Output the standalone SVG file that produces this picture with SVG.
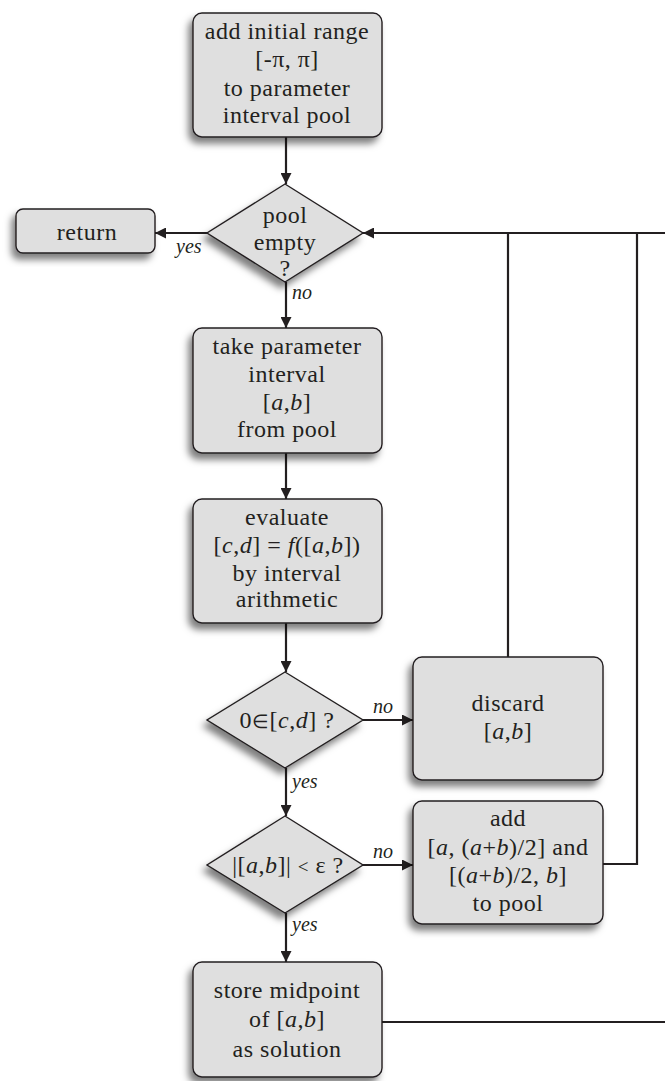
<svg xmlns="http://www.w3.org/2000/svg" width="665" height="1081" viewBox="0 0 665 1081">
<style>
.box{fill:#dfdfdf;stroke:#231f20;stroke-width:1.4;filter:url(#sh)}
.t{font-family:"Liberation Serif",serif;font-size:24px;fill:#231f20;text-anchor:middle;letter-spacing:0.5px}
.lbl{font-family:"Liberation Serif",serif;font-style:italic;font-size:20px;fill:#231f20}
.i{font-style:italic}
.sm{font-size:19px}
.c{fill:none;stroke:#231f20;stroke-width:2.2}
.a{marker-end:url(#ah)}
</style>
<defs>
<filter id="sh" x="-20%" y="-20%" width="140%" height="150%">
<feDropShadow dx="-4" dy="6" stdDeviation="3.5" flood-color="#000" flood-opacity="0.5"/>
</filter>
<marker id="ah" markerWidth="11" markerHeight="11" refX="11" refY="5.5" orient="auto" markerUnits="userSpaceOnUse">
<path d="M0,0 L11,5.5 L0,11 Z" fill="#231f20"/>
</marker>
</defs>

<g id="connectors">
<path class="c a" d="M286,137 V184"/>
<path class="c a" d="M207,233 H155"/>
<path class="c a" d="M286,282 V328"/>
<path class="c a" d="M286,453 V499"/>
<path class="c a" d="M286,623 V672"/>
<path class="c a" d="M363,720 H413"/>
<path class="c a" d="M286,768 V816"/>
<path class="c a" d="M363,865 H413"/>
<path class="c a" d="M286,913 V962"/>
<path class="c" d="M508,657 V233"/>
<path class="c" d="M603,864 H637 V233"/>
<path class="c a" d="M382,1022 H672 V233 H363"/>
<text class="lbl" x="176" y="253">yes</text>
<text class="lbl" x="292" y="299">no</text>
<text class="lbl" x="373" y="713">no</text>
<text class="lbl" x="292" y="788">yes</text>
<text class="lbl" x="373" y="858">no</text>
<text class="lbl" x="292" y="931">yes</text>
</g>

<g id="init">
<rect class="box" x="193" y="13" width="189" height="124" rx="9"/>
<text class="t" x="287" y="39">add initial range</text>
<text class="t" x="287" y="67">[-π, π]</text>
<text class="t" x="287" y="96">to parameter</text>
<text class="t" x="287" y="123">interval pool</text>
</g>

<g id="pool-empty">
<path class="box" d="M285,184 L363,233 L285,282 L207,233 Z"/>
<text class="t" x="285" y="223">pool</text>
<text class="t" x="285" y="250">empty</text>
<text class="t" x="285" y="276">?</text>
</g>

<g id="return">
<rect class="box" x="16" y="209" width="139" height="44" rx="7"/>
<text class="t" x="87" y="240">return</text>
</g>

<g id="take">
<rect class="box" x="193" y="328" width="189" height="125" rx="9"/>
<text class="t" x="287" y="354">take parameter</text>
<text class="t" x="287" y="382">interval</text>
<text class="t" x="287" y="410">[<tspan class="i">a</tspan>,<tspan class="i">b</tspan>]</text>
<text class="t" x="287" y="437">from pool</text>
</g>

<g id="evaluate">
<rect class="box" x="193" y="499" width="189" height="124" rx="9"/>
<text class="t" x="287" y="525">evaluate</text>
<text class="t" x="287" y="553">[<tspan class="i">c</tspan>,<tspan class="i">d</tspan>] = <tspan class="i">f</tspan>([<tspan class="i">a</tspan>,<tspan class="i">b</tspan>])</text>
<text class="t" x="287" y="581">by interval</text>
<text class="t" x="287" y="607">arithmetic</text>
</g>

<g id="zero-test">
<path class="box" d="M285,672 L363,720 L285,768 L207,720 Z"/>
<text class="t" x="287" y="728">0<tspan class="sm">∈</tspan>[<tspan class="i">c</tspan>,<tspan class="i">d</tspan>] ?</text>
</g>

<g id="discard">
<rect class="box" x="413" y="657" width="190" height="123" rx="9"/>
<text class="t" x="508" y="711">discard</text>
<text class="t" x="508" y="739">[<tspan class="i">a</tspan>,<tspan class="i">b</tspan>]</text>
</g>

<g id="width-test">
<path class="box" d="M285,816 L363,865 L285,913 L207,865 Z"/>
<text class="t" x="288" y="873">|[<tspan class="i">a</tspan>,<tspan class="i">b</tspan>]| <tspan class="sm">&lt;</tspan> ε ?</text>
</g>

<g id="split">
<rect class="box" x="413" y="801" width="190" height="123" rx="9"/>
<text class="t" x="508" y="826">add</text>
<text class="t" x="508" y="855">[<tspan class="i">a</tspan>, (<tspan class="i">a</tspan>+<tspan class="i">b</tspan>)/2] and</text>
<text class="t" x="508" y="883">[(<tspan class="i">a</tspan>+<tspan class="i">b</tspan>)/2, <tspan class="i">b</tspan>]</text>
<text class="t" x="508" y="911">to pool</text>
</g>

<g id="store">
<rect class="box" x="193" y="962" width="189" height="115" rx="9"/>
<text class="t" x="287" y="998">store midpoint</text>
<text class="t" x="287" y="1027">of [<tspan class="i">a</tspan>,<tspan class="i">b</tspan>]</text>
<text class="t" x="287" y="1057">as solution</text>
</g>
</svg>
